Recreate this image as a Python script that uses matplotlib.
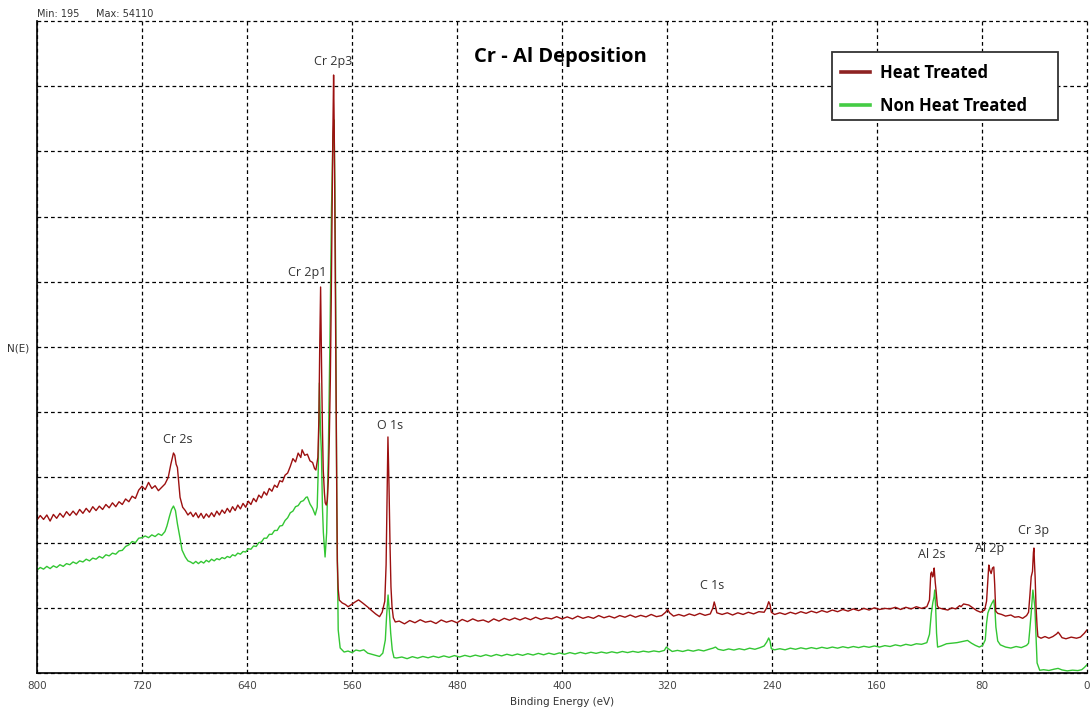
import numpy as np
import matplotlib
matplotlib.use("Agg")
import matplotlib.pyplot as plt
from matplotlib.patches import Rectangle

# survey spectra, (binding energy eV, counts)
heat_treated = [
    (800, 13850), (797.5, 14250), (795, 13900), (792.5, 14300), (790, 13750), (787.5, 14350),
    (785, 14000), (782.5, 14450), (780, 14100), (777.5, 14600), (775, 14250), (772.5, 14650),
    (770, 14300), (767.5, 14800), (765, 14450), (762.5, 14900), (760, 14550), (757.5, 15050),
    (755, 14700), (752.5, 15100), (750, 14800), (747.5, 15250), (745, 14950), (742.5, 15400),
    (740, 15050), (737.5, 15500), (735, 15250), (732.5, 15750), (730, 15500), (727.5, 16000),
    (725, 15800), (722.5, 16550), (720, 16900), (717.5, 16600), (715, 17250), (712.5, 16700),
    (710, 16950), (707.5, 16500), (705, 16800), (702.5, 17100), (700, 17700), (698, 18900),
    (697, 19400), (696, 19910), (695, 19700), (694, 18900), (693, 18600), (691, 15900),
    (689, 15000), (687, 14700), (685, 14300), (683, 14550), (681, 14150), (679, 14500),
    (677, 14050), (675, 14450), (673, 14000), (671, 14400), (669, 14100), (667, 14500),
    (665, 14150), (663, 14650), (661, 14300), (659, 14750), (657, 14450), (655, 14900),
    (653, 14550), (651, 15050), (649, 14700), (647, 15200), (645, 14850), (643, 15350),
    (641, 15000), (639, 15550), (637, 15250), (635, 15800), (633, 15500), (631, 16100),
    (629, 15850), (627, 16400), (625, 16100), (623, 16700), (621, 16450), (619, 17000),
    (617, 16800), (615, 17400), (613, 17300), (611, 17900), (609, 18100), (607, 18700),
    (605, 19400), (603, 19100), (601, 19900), (599, 19500), (598, 20200), (596, 19700),
    (594, 19800), (592, 19200), (590, 19050), (588.5, 18500), (587.5, 18370),
    (586, 19500), (585.2, 23000), (584.6, 29200), (583.9, 34930), (583.2, 28000),
    (582.5, 22000), (581.9, 18400), (581, 16300), (580.4, 15400), (579.6, 15200),
    (578.8, 15650), (578, 17500), (577.3, 21100), (576.5, 26500), (575.8, 33800),
    (575.2, 41000), (574.6, 48500), (574.0, 54110), (573.5, 49000), (573.1, 42800),
    (572.6, 33000), (572.1, 24700), (571.6, 16000), (571.2, 10200), (570.5, 7600),
    (569.7, 6600), (567.4, 6340), (565, 6200), (563, 6000), (561, 6150), (558, 6400),
    (555, 6620), (552, 6350), (548, 5970), (545, 5650), (542, 5350), (539, 5100),
    (537, 5500), (535, 6500), (534, 9800), (533.3, 15500), (532.6, 21360), (531.8, 17000),
    (531, 11500), (530.3, 7800), (529.5, 6000), (528.5, 5000), (527, 4620),
    (524, 4700), (520, 4450), (516, 4750), (512, 4550), (508, 4820), (504, 4600),
    (500, 4700), (496, 4480), (492, 4800), (488, 4600), (484, 4750), (480, 4550),
    (476, 4850), (472, 4650), (468, 4900), (464, 4700), (460, 4800), (456, 4600),
    (452, 4900), (448, 4700), (444, 4950), (440, 4780), (436, 4980), (432, 4800),
    (428, 5000), (424, 4820), (420, 5050), (416, 4850), (412, 5000), (408, 4900),
    (404, 5100), (400, 4900), (396, 5080), (392, 4900), (388, 5150), (384, 4950),
    (380, 5100), (376, 4950), (372, 5200), (368, 5000), (364, 5150), (360, 4980),
    (356, 5200), (352, 5050), (348, 5250), (344, 5050), (340, 5220), (336, 5080),
    (332, 5300), (328, 5100), (324, 5200), (321, 5500), (319.5, 5750), (318, 5450),
    (315, 5150), (311, 5300), (307, 5150), (303, 5350), (299, 5200), (295, 5400),
    (291, 5220), (287, 5350), (285, 5900), (284, 6430), (283, 6000), (282, 5450),
    (278, 5300), (274, 5450), (270, 5250), (266, 5450), (262, 5300), (258, 5500),
    (254, 5350), (250, 5550), (246, 5500), (244, 5900), (242.5, 6450), (241.5, 6200),
    (240.5, 5500), (238, 5300), (234, 5450), (230, 5300), (226, 5500), (222, 5350),
    (218, 5550), (214, 5400), (210, 5600), (206, 5450), (202, 5650), (198, 5500),
    (194, 5700), (190, 5550), (186, 5750), (182, 5600), (178, 5800), (174, 5650),
    (170, 5850), (166, 5700), (162, 5900), (158, 5750), (154, 5850), (150, 5800),
    (146, 5950), (142, 5750), (138, 5950), (134, 5800), (130, 6000), (126, 5850),
    (122, 6000), (120, 6600), (119, 9000), (118.3, 9140), (117.6, 8700), (117, 8900),
    (116.4, 9500), (115.6, 8200), (114.8, 7240), (114, 6100), (113, 5900), (110, 5800),
    (106, 5700), (103, 5900), (100, 5800), (97, 6100), (96, 6000), (94, 6250),
    (90, 6150), (87, 5900), (84, 5650), (81, 5500), (78, 5700), (76.5, 6500),
    (75.5, 8500), (74.8, 9770), (74, 9300), (73, 9000), (72, 9500), (71, 9600),
    (70.3, 8000), (69.5, 5600), (68, 5400), (65, 5300), (62, 5150), (58, 5250),
    (55, 5050), (52, 5100), (49, 4950), (46, 5200), (44.5, 5500), (43.5, 7000),
    (42.5, 8700), (41.5, 9200), (40.8, 10900), (40.4, 11310), (40, 10000), (39.5, 8700),
    (38.8, 6000), (38, 4200), (37.4, 3300), (35, 3150), (32, 3300), (29, 3150),
    (26, 3300), (23, 3550), (22, 3700), (21, 3550), (19, 3200), (16, 3100),
    (12, 3250), (8, 3150), (5, 3250), (2, 3600), (0, 3900),
]

non_heat_treated = [
    (800, 9320), (797.5, 9550), (795, 9400), (792.5, 9650), (790, 9450), (787.5, 9700),
    (785, 9550), (782.5, 9800), (780, 9650), (777.5, 9900), (775, 9800), (772.5, 10050),
    (770, 9900), (767.5, 10150), (765, 10050), (762.5, 10300), (760, 10150), (757.5, 10400),
    (755, 10300), (752.5, 10550), (750, 10400), (747.5, 10700), (745, 10600), (742.5, 10850),
    (740, 10750), (737.5, 11050), (735, 11100), (732.5, 11450), (730, 11600), (727.5, 11900),
    (725, 11800), (722.5, 12200), (720, 12250), (717.5, 12400), (715, 12250), (712.5, 12500),
    (710, 12350), (707.5, 12600), (705, 12450), (702.5, 12800), (701, 13300), (699, 14200),
    (697.5, 14800), (696, 15110), (694.5, 14700), (693, 13500), (691, 12200), (689.5, 11130),
    (687, 10500), (685, 10150), (683, 10050), (681, 9900), (679, 10100), (677, 9900),
    (675, 10100), (673, 9950), (671, 10200), (669, 10050), (667, 10300), (665, 10150),
    (663, 10350), (661, 10250), (659, 10450), (657, 10350), (655, 10550), (653, 10450),
    (651, 10700), (649, 10600), (647, 10850), (645, 10750), (643, 11000), (641, 10950),
    (639, 11250), (637, 11200), (635, 11500), (633, 11450), (631, 11800), (629, 11850),
    (627, 12200), (625, 12200), (623, 12550), (621, 12550), (619, 12900), (617, 12900),
    (615, 13300), (613, 13350), (611, 13800), (609, 14050), (607, 14500), (605, 14650),
    (603, 15050), (601, 15150), (599, 15500), (597, 15600), (595, 15900), (594, 15930),
    (592, 15300), (590, 14900), (588, 14300), (586.5, 15000), (585.7, 18400),
    (584.8, 26250), (584, 22000), (583.3, 20000), (582.5, 15000), (581.8, 12700),
    (580.5, 10500), (579.3, 12700), (578, 20000), (576.8, 30000), (575.6, 42000),
    (574.5, 48500), (573.7, 50050), (573, 44000), (572.4, 33800), (571.6, 15500),
    (570.5, 3900), (569, 2270), (566, 1900), (563, 1990), (560, 1850), (557, 2080),
    (554, 2000), (551, 2100), (548, 1800), (545, 1700), (542, 1600), (539, 1500),
    (536.5, 1800), (534.6, 2990), (533.6, 5200), (532.5, 7060), (531.5, 5500),
    (530.5, 3600), (529.3, 2080), (528, 1400), (526, 1360),
    (522, 1450), (518, 1300), (514, 1480), (510, 1350), (506, 1500), (502, 1380),
    (498, 1520), (494, 1400), (490, 1550), (486, 1420), (482, 1580), (478, 1450),
    (474, 1600), (470, 1480), (466, 1620), (462, 1500), (458, 1650), (454, 1520),
    (450, 1680), (446, 1550), (442, 1700), (438, 1580), (434, 1720), (430, 1600),
    (426, 1750), (422, 1630), (418, 1780), (414, 1650), (410, 1800), (406, 1680),
    (402, 1820), (398, 1700), (394, 1850), (390, 1730), (386, 1870), (382, 1750),
    (378, 1880), (374, 1780), (370, 1900), (366, 1800), (362, 1920), (358, 1820),
    (354, 1950), (350, 1850), (346, 1960), (342, 1870), (338, 1980), (334, 1900),
    (330, 2000), (326, 1920), (322, 2050), (320.5, 2350), (319, 2200), (316, 1950),
    (312, 2050), (308, 1950), (304, 2080), (300, 1980), (296, 2100), (292, 2000),
    (288, 2150), (285, 2250), (283, 2350), (281, 2150), (277, 2050), (273, 2180),
    (269, 2080), (265, 2200), (261, 2100), (257, 2250), (253, 2150), (249, 2300),
    (246, 2450), (244, 2800), (242.5, 3170), (241.5, 2900), (240.5, 2200), (238, 2100),
    (234, 2200), (230, 2100), (226, 2250), (222, 2150), (218, 2280), (214, 2180),
    (210, 2300), (206, 2200), (202, 2330), (198, 2230), (194, 2350), (190, 2250),
    (186, 2380), (182, 2280), (178, 2400), (174, 2300), (170, 2420), (166, 2330),
    (162, 2450), (158, 2350), (154, 2480), (150, 2400), (146, 2550), (142, 2450),
    (138, 2600), (134, 2500), (130, 2650), (126, 2600), (122, 2750), (120, 3500),
    (118.6, 5400), (117.4, 6400), (116.5, 6900), (116, 7510), (115.3, 6000),
    (114.6, 3600), (113.8, 2350), (111, 2450), (107, 2650), (103, 2700), (99, 2750),
    (95, 2850), (91, 2950), (88, 2700), (85, 2500), (82, 2350), (79.5, 2500),
    (77.5, 2990), (76.5, 4500), (75.5, 5430), (74, 5900), (72.5, 6300), (71, 6610),
    (70, 5500), (69.4, 4160), (68, 2900), (66, 2550), (62, 2350), (58, 2260),
    (54, 2400), (50, 2300), (46, 2500), (44.5, 2700), (43.5, 4000), (42.5, 5430),
    (41.2, 7510), (40.5, 6800), (39.7, 5970), (38.8, 3200), (38, 910), (36, 250),
    (33, 300), (29, 230), (25, 350), (22, 420), (19, 280), (15, 195), (11, 260),
    (7, 220), (4, 300), (2, 500), (0, 750),
]

peak_names = ["Cr 2p3", "Cr 2p1", "Cr 2s", "O 1s", "C 1s", "Al 2s", "Al 2p", "Cr 3p"]
peak_label_ev = [574.3, 594.1, 692.5, 530.8, 285.3, 118.2, 74.0, 40.5]
peak_label_y = [55300, 36200, 21090, 22440, 7960, 10770, 11310, 12940]

x_ticks = [800, 720, 640, 560, 480, 400, 320, 240, 160, 80, 0]
y_top = 59000

red = "#9c1010"
green = "#33c633"

fig = plt.figure(figsize=(10.91, 7.11), dpi=100)
ax = fig.add_axes([0.0339, 0.0534, 0.9624, 0.9171])

ht = np.array(heat_treated)
nht = np.array(non_heat_treated)
ax.plot(nht[:, 0], nht[:, 1], color=green, lw=1.0, zorder=3)
ax.plot(ht[:, 0], ht[:, 1], color=red, lw=1.0, zorder=4)

ax.set_xlim(800, 0)
ax.set_ylim(0, y_top)
ax.set_xticks(x_ticks)
ax.set_yticks(np.linspace(0, y_top, 11))
ax.set_yticklabels([])
ax.tick_params(axis="both", length=0, labelsize=7.5, labelcolor="#444444", pad=6)
ax.grid(True, color="black", lw=0.9, ls=(0, (3.0, 2.4)), zorder=1)
for gl in ax.get_xgridlines() + ax.get_ygridlines():
    gl.set_clip_on(False)
for s in ["top", "right"]:
    ax.spines[s].set_visible(False)
for s in ["left", "bottom"]:
    ax.spines[s].set_linewidth(1.2)
    ax.spines[s].set_zorder(5)

for name, ev, yv in zip(peak_names, peak_label_ev, peak_label_y):
    ax.text(ev, yv, name, ha="center", va="center", fontsize=9,
            family="Open Sans", color="#333333", zorder=6)

ax.text(0.499, 0.945, "Cr - Al Deposition", transform=ax.transAxes,
        ha="center", va="center", fontsize=14.5, fontweight="bold", family="Open Sans")

# legend box drawn separately so the text can sit left of centre
box = Rectangle((0.7571, 0.8482), 0.2153, 0.1043, transform=ax.transAxes,
                facecolor="white", edgecolor="#333333", lw=1.3, zorder=7)
ax.add_patch(box)
leg_lines = [plt.Line2D([], [], color="#8e2222", lw=2.6),
             plt.Line2D([], [], color="#44cc44", lw=2.6)]
leg = ax.legend(leg_lines, ["Heat Treated", "Non Heat Treated"],
                loc="upper left", bbox_to_anchor=(0.7657, 0.9345), borderaxespad=0,
                prop={"family": "Open Sans", "weight": "bold", "size": 12},
                frameon=False, handlelength=1.74, handletextpad=0.6,
                labelspacing=0.92, borderpad=0)
leg.set_zorder(8)

ax.set_xlabel("Binding Energy (eV)", fontsize=7.5, color="#333333", labelpad=4)
fig.text(0.017, 0.51, "N(E)", fontsize=7.5, color="#333333", ha="center", va="center")
fig.text(0.034, 0.981, "Min: 195", fontsize=7, color="#333333", ha="left", va="center")
fig.text(0.088, 0.981, "Max: 54110", fontsize=7, color="#333333", ha="left", va="center")

fig.savefig("out.png", dpi=100)
